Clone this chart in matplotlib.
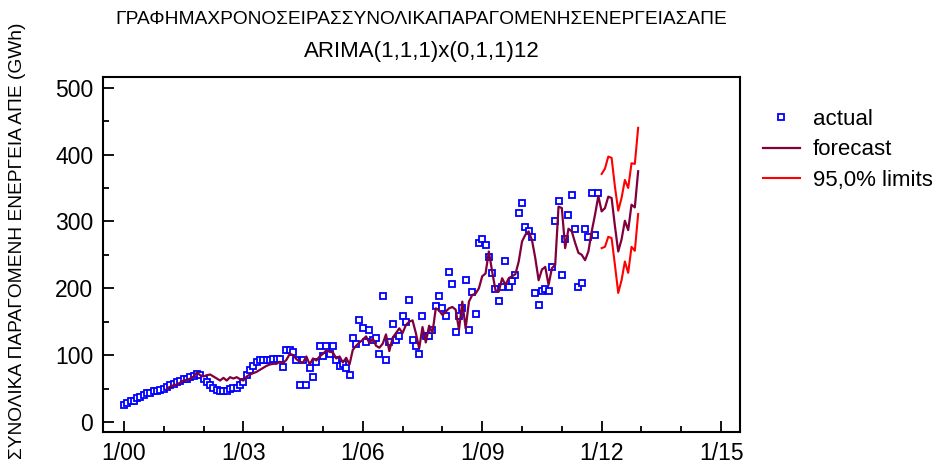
import numpy as np
import matplotlib
matplotlib.use("Agg")
import matplotlib.pyplot as plt
from matplotlib import font_manager
from matplotlib.ticker import MultipleLocator

plt.rcParams['font.family'] = ['Liberation Sans', 'DejaVu Sans']

# condensed face for the long Greek texts, if it is installed
installed = {f.name for f in font_manager.fontManager.ttflist}
if 'Liberation Sans Narrow' in installed:
    narrow, title_size, ylab_size = ['Liberation Sans Narrow', 'DejaVu Sans'], 16.8, 16.6
else:
    narrow, title_size, ylab_size = ['Liberation Sans', 'DejaVu Sans'], 13.8, 13.8

# monthly production, Jan 2000 - Dec 2011 (GWh)
actual = [
    25, 29, 31, 32, 36, 38, 41, 43, 44, 46, 46, 48,
    50, 52, 55, 57, 60, 62, 64, 65, 67, 69, 72, 70,
    65, 60, 55, 51, 48, 47, 47, 47, 50, 51, 51, 55,
    60, 70, 77, 84, 89, 92, 93, 93, 93, 94, 94, 94,
    82, 108, 108, 105, 92, 56, 92, 56, 80, 68, 89, 113,
    98, 113, 101, 113, 92, 83, 86, 80, 71, 125, 116, 152,
    140, 119, 137, 122, 125, 101, 188, 92, 119, 146, 122, 128,
    158, 149, 182, 122, 113, 101, 158, 128, 128, 137, 173, 188,
    170, 158, 224, 206, 134, 158, 170, 212, 137, 194, 161, 268,
    274, 265, 247, 223, 199, 181, 202, 241, 202, 211, 220, 313,
    328, 292, 286, 277, 193, 175, 196, 199, 196, 232, 301, 331,
    220, 274, 310, 340, 289, 202, 208, 289, 277, 343, 280, 343,
]

# one-step fitted values, Feb 2001 - Dec 2011
fitted = [
    50, 53, 55, 56, 59, 62, 63, 65, 68, 74, 70,
    68, 70, 71, 68, 65, 62, 66, 62, 67, 65, 67, 64,
    62, 68, 71, 73, 75, 78, 81, 84, 86, 87, 87, 90,
    88, 93, 102, 100, 94, 90, 89, 98, 86, 95, 92, 98,
    102, 107, 105, 104, 95, 98, 89, 96, 86, 108, 114, 119,
    123, 128, 118, 125, 114, 111, 117, 131, 106, 126, 133, 140,
    133, 145, 150, 152, 133, 110, 142, 119, 144, 133, 170, 167,
    160, 165, 170, 172, 168, 138, 180, 140, 180, 190, 192, 200,
    218, 222, 255, 225, 197, 195, 215, 205, 215, 218, 221, 240,
    270, 280, 285, 272, 245, 212, 228, 232, 205, 230, 235, 322,
    320, 260, 289, 285, 268, 253, 250, 242, 255, 285, 310, 338,
]

# forecasts for 2012 with 95% limits
forecast = [315, 320, 337, 335, 293, 255, 273, 301, 287, 325, 321, 375]
lower = [260, 262, 277, 275, 235, 193, 212, 240, 223, 262, 256, 311]
upper = [371, 379, 397, 395, 352, 316, 335, 362, 350, 387, 386, 440]

tick_labels = ["1/00", "1/03", "1/06", "1/09", "1/12", "1/15"]

t_actual = np.arange(len(actual))
t_fit = np.arange(13, 13 + len(fitted) + len(forecast))
t_fc = np.arange(len(actual), len(actual) + len(forecast))

fig = plt.figure(figsize=(9.38, 4.67), dpi=100)
ax = fig.add_axes([103 / 938, 1 - 432 / 467, 637 / 938, 355 / 467])

ax.plot(t_actual, actual, 's', ms=4, mfc='white', mec='#0000ff', mew=1.3,
        label='actual', zorder=2)
ax.plot(t_fit, fitted + forecast, color='#80003c', lw=1.6, label='forecast', zorder=3)
ax.plot(t_fc, lower, color='#ff0000', lw=1.5, label='95,0% limits', zorder=3)
ax.plot(t_fc, upper, color='#ff0000', lw=1.5, zorder=3)

ax.set_xlim(-6.3, 185.7)
ax.set_ylim(-15, 516)
ax.set_xticks(np.arange(0, 181, 36))
ax.set_xticklabels(tick_labels)
ax.xaxis.set_minor_locator(MultipleLocator(12))
ax.set_yticks(np.arange(0, 501, 100))
ax.yaxis.set_minor_locator(MultipleLocator(50))
ax.tick_params(which='both', direction='in', top=False, right=False,
               labelsize=16.5, width=1.3)
ax.tick_params(which='major', length=8)
ax.tick_params(which='minor', length=4)
ax.tick_params(axis='x', pad=7)
ax.tick_params(axis='y', pad=7)
for s in ax.spines.values():
    s.set_linewidth(1.5)

# long axis title, raised a little so it stays inside the figure
ax.set_ylabel('ΣΥΝΟΛΙΚΑ ΠΑΡΑΓΟΜΕΝΗ ΕΝΕΡΓΕΙΑ ΑΠΕ (GWh)', fontsize=ylab_size,
              family=narrow)
ax.yaxis.set_label_coords(-0.121, 0.54)

cx = (103 + 740) / 2 / 938
fig.text(cx, 1 - 20 / 467, 'ΓΡΑΦΗΜΑΧΡΟΝΟΣΕΙΡΑΣΣΥΝΟΛΙΚΑΠΑΡΑΓΟΜΕΝΗΣΕΝΕΡΓΕΙΑΣΑΠΕ',
         ha='center', va='center', fontsize=title_size, family=narrow)
fig.text(cx, 1 - 52 / 467, 'ARIMA(1,1,1)x(0,1,1)12',
         ha='center', va='center', fontsize=16)

ax.legend(loc='upper left', bbox_to_anchor=(763 / 938, 1 - 109 / 467),
          bbox_transform=fig.transFigure, frameon=False, fontsize=16,
          numpoints=1, handlelength=1.65, handletextpad=0.58,
          labelspacing=0.42, borderpad=0, borderaxespad=0)

fig.savefig('out.png', dpi=100)
